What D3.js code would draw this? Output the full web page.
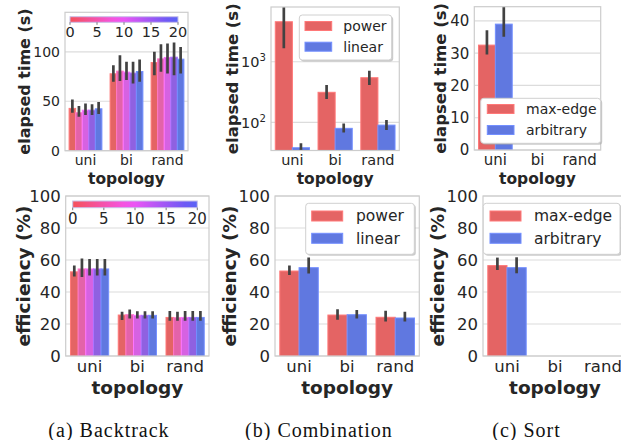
<!DOCTYPE html>
<html>
<head>
<meta charset="utf-8">
<style>
  body { margin: 0; background: #fff; }
  svg { font-family: "DejaVu Sans", sans-serif; }
  .grid line { stroke: #dcdcdc; stroke-width: 1.2; }
  .frame { fill: none; stroke: #cccccc; stroke-width: 1.2; }
  .tick-label { fill: #262626; }
  .axis-title { fill: #262626; font-weight: bold; }
  .err { stroke: #424242; stroke-width: 2.7; }
  .caption { font-family: "Liberation Serif", serif; fill: #111; }
</style>
</head>
<body>
<script src="https://d3js.org/d3.v7.min.js"></script>
<script>
// ---- data ----
var topologies = ["uni", "bi", "rand"];
var hueTicks = [0, 5, 10, 15, 20];

// (a) Backtrack: rows = topology, columns = hue level 0,5,10,15,20
var btTime   = [[42.8, 38.4, 41.0, 41.0, 42.4], [77.8, 80.5, 79.5, 78.5, 80.1], [89.2, 92.9, 94.3, 94.6, 92.6]];
var btTimeLo = [[38.4, 34.3, 36.0, 36.0, 37.0], [69.7, 70.4, 71.4, 68.0, 69.7], [76.4, 79.8, 78.1, 76.4, 78.1]];
var btTimeHi = [[51.9, 45.1, 47.8, 47.1, 49.2], [86.5, 96.6, 89.9, 89.9, 92.3], [100.0, 107.7, 108.4, 109.4, 105.0]];
var btEff    = [[52.6, 54.4, 54.4, 54.4, 54.4], [25.6, 25.8, 25.4, 25.4, 25.4], [24.1, 23.9, 24.1, 24.1, 24.1]];
var btEffLo  = [[49.7, 49.3, 50.3, 50.3, 50.3], [22.5, 23.5, 23.5, 23.5, 23.5], [22.0, 22.0, 22.0, 22.0, 22.0]];
var btEffHi  = [[56.5, 61.0, 60.6, 60.6, 60.6], [27.6, 29.0, 28.0, 28.0, 28.0], [28.2, 27.6, 28.2, 28.2, 28.2]];

// (b) Combination
var cbSeries = ["power", "linear"];
var cbTime   = [[4570, 38.1], [313, 79.6], [545, 90]];
var cbTimeLo = [[1663, 34], [243, 68], [412, 75]];
var cbTimeHi = [[9000, 45], [412, 96], [711, 109]];
var cbEff    = [[53.1, 55.2], [25.6, 25.8], [24.2, 23.75]];
var cbEffLo  = [[50.6, 51.5], [22.7, 23.5], [21.5, 21.5]];
var cbEffHi  = [[56.5, 61.5], [29.2, 28.75], [28.3, 27.7]];

// (c) Sort: only "uni" has results
var stSeries = ["max-edge", "arbitrary"];
var stTime   = [[32.5, 39.0], null, null];
var stTimeLo = [[29.6, 35.1], null, null];
var stTimeHi = [[37.1, 45.0], null, null];
var stEff    = [[56.5, 55.2], null, null];
var stEffLo  = [[53.75, 51.7], null, null];
var stEffHi  = [[61.5, 61.7], null, null];

var captions = ["(a) Backtrack", "(b) Combination", "(c) Sort"];

// ---- styles ----
var red = "#e46464", blue = "#6078e0";
var pairColors = [red, blue];
var hueColors = hueTicks.map(function(d, i) { return d3.interpolateHsl(red, blue)(i / (hueTicks.length - 1)); });
var cbarLeft = "#f5505a", cbarRight = "#5a64f5";

var svg = d3.select("body").append("svg")
    .attr("width", 621)
    .attr("height", 440);

var defs = svg.append("defs");
var grad = defs.append("linearGradient").attr("id", "cbar");
d3.range(11).forEach(function(i) {
  grad.append("stop")
    .attr("offset", (i * 10) + "%")
    .attr("stop-color", d3.interpolateHsl(cbarLeft, cbarRight)(i / 10));
});

var clipId = 0;

function panel(o) {
  var y;
  if (o.log) {
    y = d3.scaleLog().domain(o.domain).range([o.y1, o.y0]);
  } else {
    y = d3.scaleLinear().domain(o.domain).range([o.y1, o.y0]);
  }
  var x = d3.scaleBand().domain(topologies).range([o.x0, o.x1])
      .paddingInner(0.2).paddingOuter(0.1);
  var k = o.colors.length;
  var xi = d3.scaleBand().domain(d3.range(k)).range([0, x.bandwidth()]);

  var g = svg.append("g");

  // grid
  g.append("g").attr("class", "grid")
    .selectAll("line").data(o.ticks).enter().append("line")
    .attr("x1", o.x0).attr("x2", o.x1)
    .attr("y1", function(d) { return y(d); })
    .attr("y2", function(d) { return y(d); });

  var id = "clip" + (clipId++);
  defs.append("clipPath").attr("id", id).append("rect")
    .attr("x", o.x0).attr("y", o.y0)
    .attr("width", o.x1 - o.x0).attr("height", o.y1 - o.y0);

  var plot = g.append("g").attr("clip-path", "url(#" + id + ")");

  topologies.forEach(function(t, ti) {
    var vals = o.values[ti];
    if (!vals) return;
    vals.forEach(function(v, j) {
      var bx = x(t) + xi(j);
      plot.append("rect")
        .attr("x", bx)
        .attr("y", y(v))
        .attr("width", xi.bandwidth())
        .attr("height", o.y1 - y(v))
        .attr("fill", o.colors[j])
        .attr("stroke", d3.color(o.colors[j]).brighter(0.5))
        .attr("stroke-width", 1);
    });
    vals.forEach(function(v, j) {
      var cx = x(t) + xi(j) + xi.bandwidth() / 2;
      plot.append("line").attr("class", "err")
        .attr("x1", cx).attr("x2", cx)
        .attr("y1", y(o.lo[ti][j]))
        .attr("y2", y(o.hi[ti][j]));
    });
  });

  g.append("rect").attr("class", "frame")
    .attr("x", o.x0).attr("y", o.y0)
    .attr("width", o.x1 - o.x0).attr("height", o.y1 - o.y0);

  // y tick labels
  o.ticks.forEach(function(d) {
    var t = g.append("text").attr("class", "tick-label")
      .attr("x", o.x0 - 5)
      .attr("y", y(d))
      .attr("dy", "0.36em")
      .attr("text-anchor", "end")
      .style("font-size", o.tickFont + "px");
    if (o.log) {
      t.text("10");
      t.append("tspan")
        .attr("dy", "-0.55em")
        .style("font-size", (o.tickFont * 0.7) + "px")
        .text(Math.round(Math.log10(d)));
    } else {
      t.text(d);
    }
  });

  // x tick labels
  topologies.forEach(function(t) {
    g.append("text").attr("class", "tick-label")
      .attr("x", x(t) + x.bandwidth() / 2)
      .attr("y", o.y1 + o.xTickDy)
      .attr("text-anchor", "middle")
      .style("font-size", o.tickFont + "px")
      .text(t);
  });

  g.append("text").attr("class", "axis-title")
    .attr("x", (o.x0 + o.x1) / 2)
    .attr("y", o.xTitleY)
    .attr("text-anchor", "middle")
    .style("font-size", o.xTitleFont + "px")
    .text("topology");

  g.append("text").attr("class", "axis-title")
    .attr("transform", "translate(" + o.yTitleX + "," + ((o.y0 + o.y1) / 2) + ") rotate(-90)")
    .attr("text-anchor", "middle")
    .attr("dy", "0.35em")
    .style("font-size", o.titleFont + "px")
    .text(o.ylabel);

  if (o.legend) {
    var L = o.legend;
    g.append("rect")
      .attr("x", L.x + 1.5).attr("y", L.y + 1.5)
      .attr("width", L.w).attr("height", L.h).attr("rx", 3)
      .attr("fill", "#a8a8a8").attr("opacity", 0.6);
    g.append("rect")
      .attr("x", L.x).attr("y", L.y)
      .attr("width", L.w).attr("height", L.h).attr("rx", 3)
      .attr("fill", "#fff").attr("stroke", "#d0d0d0");
    L.labels.forEach(function(name, j) {
      var cy = L.rows[j];
      g.append("rect")
        .attr("x", L.px).attr("y", cy - L.ph / 2)
        .attr("width", L.pw).attr("height", L.ph)
        .attr("fill", o.colors[j])
        .attr("stroke", d3.color(o.colors[j]).brighter(0.5));
      g.append("text").attr("class", "tick-label")
        .attr("x", L.tx).attr("y", cy).attr("dy", "0.35em")
        .style("font-size", L.font + "px")
        .text(name);
    });
  }

  if (o.cbar) {
    var C = o.cbar;
    var cx = d3.scaleLinear().domain([0, 20]).range([C.x0, C.x1]);
    g.append("rect")
      .attr("x", C.x0).attr("y", C.y0)
      .attr("width", C.x1 - C.x0).attr("height", C.y1 - C.y0)
      .attr("fill", "url(#cbar)")
      .attr("stroke", "#c8c0e8").attr("stroke-width", 1);
    hueTicks.forEach(function(d) {
      g.append("line")
        .attr("x1", cx(d)).attr("x2", cx(d))
        .attr("y1", C.y1).attr("y2", C.y1 + 2.5)
        .attr("stroke", "#555").attr("stroke-width", 0.8);
      g.append("text").attr("class", "tick-label")
        .attr("x", cx(d)).attr("y", C.ly)
        .attr("text-anchor", "middle")
        .style("font-size", C.font + "px")
        .text(d);
    });
  }
}

// top row
panel({ x0: 65, x1: 188, y0: 12.3, y1: 150.7, domain: [0, 140], ticks: [0, 50, 100],
  values: btTime, lo: btTimeLo, hi: btTimeHi, colors: hueColors,
  ylabel: "elapsed time (s)", yTitleX: 24, tickFont: 14, titleFont: 16, xTitleFont: 15.5,
  xTickDy: 14, xTitleY: 183.5,
  cbar: { x0: 70, x1: 178, y0: 16.7, y1: 22.3, ly: 36.7, font: 14.5 } });

panel({ x0: 271, x1: 399.3, y0: 7, y1: 150.5, log: true, domain: [34.3, 8000], ticks: [100, 1000],
  values: cbTime, lo: cbTimeLo, hi: cbTimeHi, colors: pairColors,
  ylabel: "elapsed time (s)", yTitleX: 232, tickFont: 14.5, titleFont: 16.5, xTitleFont: 15.5,
  xTickDy: 14, xTitleY: 183.5,
  legend: { x: 299.3, y: 15, w: 92.4, h: 45, px: 305, pw: 26.7, ph: 9, rows: [26, 46.7], tx: 343.3, font: 14, labels: cbSeries } });

panel({ x0: 474.3, x1: 600.7, y0: 6.7, y1: 150, domain: [0, 44.4], ticks: [0, 10, 20, 30, 40],
  values: stTime, lo: stTimeLo, hi: stTimeHi, colors: pairColors,
  ylabel: "elapsed time (s)", yTitleX: 440, tickFont: 15, titleFont: 16.5, xTitleFont: 15.5,
  xTickDy: 14.5, xTitleY: 183.5,
  legend: { x: 480.7, y: 98.3, w: 120, h: 45, px: 487.3, pw: 26.7, ph: 9, rows: [109, 130], tx: 526, font: 14, labels: stSeries } });

// bottom row
panel({ x0: 65.7, x1: 209, y0: 196, y1: 356, domain: [0, 100], ticks: [0, 20, 40, 60, 80, 100],
  values: btEff, lo: btEffLo, hi: btEffHi, colors: hueColors,
  ylabel: "efficiency (%)", yTitleX: 24, tickFont: 16.5, titleFont: 18.5, xTitleFont: 18.5,
  xTickDy: 16, xTitleY: 393.5,
  cbar: { x0: 72.7, x1: 197.3, y0: 201, y1: 207.7, ly: 224, font: 15 } });

panel({ x0: 275, x1: 419.3, y0: 196, y1: 356, domain: [0, 100], ticks: [0, 20, 40, 60, 80, 100],
  values: cbEff, lo: cbEffLo, hi: cbEffHi, colors: pairColors,
  ylabel: "efficiency (%)", yTitleX: 230, tickFont: 16.5, titleFont: 18.5, xTitleFont: 18.5,
  xTickDy: 16, xTitleY: 393.5,
  legend: { x: 305.7, y: 203.3, w: 108.6, h: 51, px: 311.7, pw: 31, ph: 10, rows: [216, 238.3], tx: 356, font: 15.5, labels: cbSeries } });

panel({ x0: 483, x1: 627, y0: 196, y1: 356, domain: [0, 100], ticks: [0, 20, 40, 60, 80, 100],
  values: stEff, lo: stEffLo, hi: stEffHi, colors: pairColors,
  ylabel: "efficiency (%)", yTitleX: 438, tickFont: 16.5, titleFont: 18.5, xTitleFont: 18.5,
  xTickDy: 16, xTitleY: 393.5,
  legend: { x: 483.3, y: 203.3, w: 136.7, h: 51, px: 490, pw: 31, ph: 10, rows: [216, 238.3], tx: 534, font: 15.5, labels: stSeries } });

// captions
var capX = [109, 319, 526.5];
captions.forEach(function(c, i) {
  svg.append("text").attr("class", "caption")
    .attr("x", capX[i]).attr("y", 437)
    .attr("text-anchor", "middle")
    .style("font-size", "20px")
    .style("letter-spacing", "1px")
    .text(c);
});
</script>
</body>
</html>
